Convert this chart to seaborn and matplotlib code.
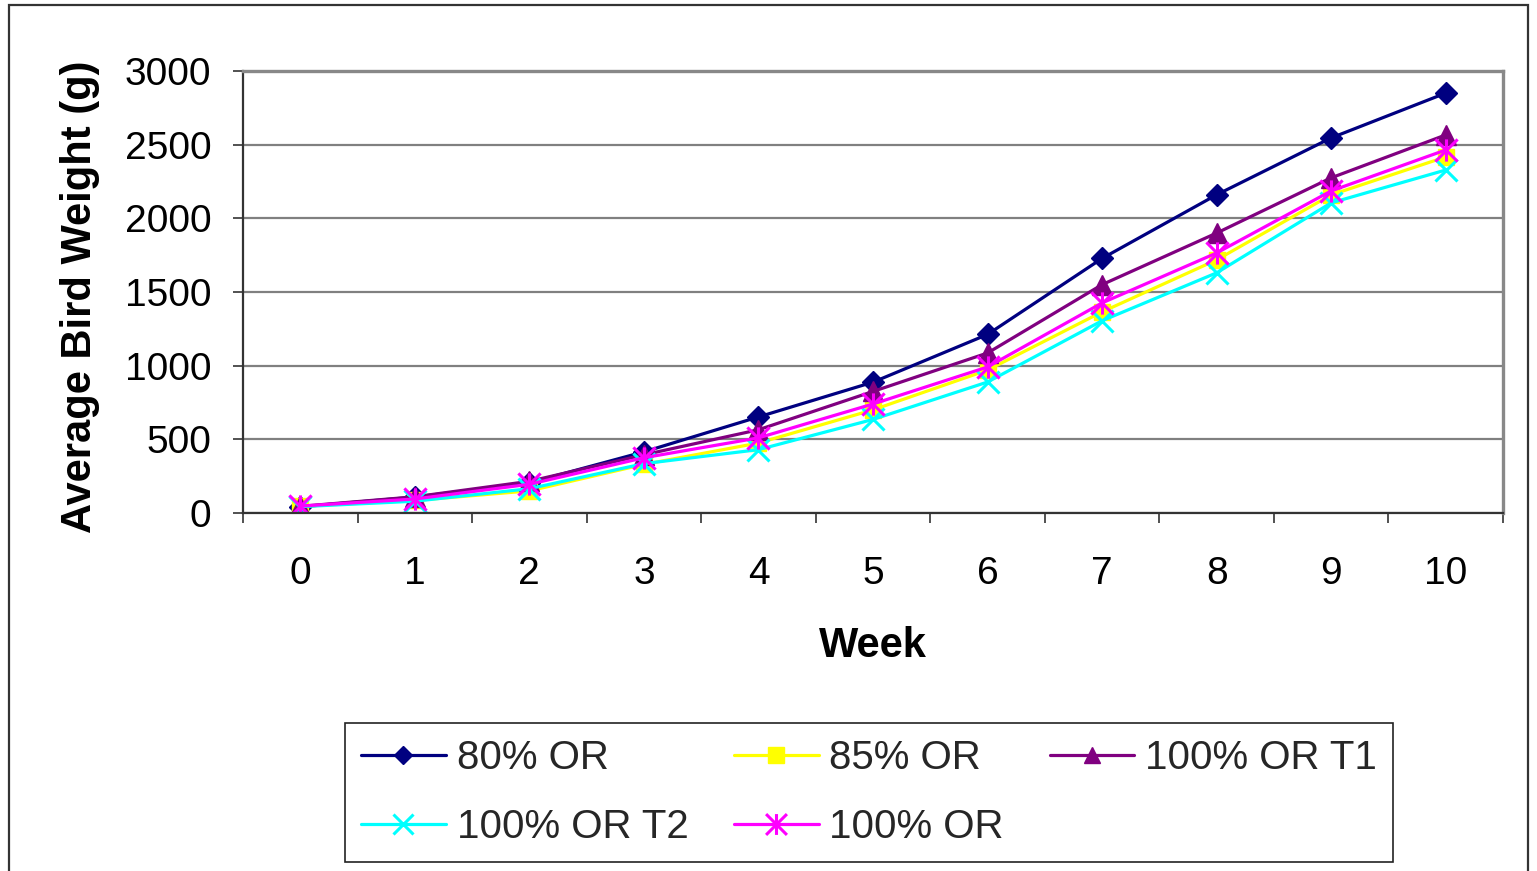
import numpy as np
import pandas as pd
import matplotlib
matplotlib.use("Agg")
import matplotlib.pyplot as plt
from matplotlib.path import Path
from matplotlib.patches import Rectangle
import seaborn as sns

# ---- data ----
weeks = list(range(0, 11))
series_names = ["80% OR", "85% OR", "100% OR T1", "100% OR T2", "100% OR"]
w_80 = [42, 108, 205, 415, 652, 888, 1212, 1728, 2160, 2546, 2850]
w_85 = [45, 85, 150, 330, 475, 700, 970, 1365, 1718, 2159, 2417]
w_100_t1 = [45, 110, 215, 395, 565, 825, 1086, 1550, 1900, 2275, 2566]
w_100_t2 = [43, 80, 165, 335, 430, 635, 889, 1305, 1630, 2105, 2328]
w_100 = [47, 95, 195, 375, 510, 740, 991, 1426, 1765, 2186, 2464]
y_ticks = [0, 500, 1000, 1500, 2000, 2500, 3000]

sns.set_theme(style="white")
plt.rcParams["font.family"] = ["Liberation Sans", "DejaVu Sans"]

# asterisk marker: vertical bar plus an x
ast = Path([(0, -1), (0, 1), (-1, -1), (1, 1), (-1, 1), (1, -1)],
           [Path.MOVETO, Path.LINETO] * 3)

styles = {
    "80% OR": dict(color="#000080", marker="D", ms=11, mew=1, lms=9),
    "85% OR": dict(color="#FFFF00", marker="s", ms=12, mew=1, lms=11),
    "100% OR T1": dict(color="#800080", marker="^", ms=14, mew=1, lms=12),
    "100% OR T2": dict(color="#00FFFF", marker="x", ms=16, mew=2.2, lms=15),
    "100% OR": dict(color="#FF00FF", marker=ast, ms=16, mew=2.2, lms=15),
}
values = {
    "80% OR": w_80,
    "85% OR": w_85,
    "100% OR T1": w_100_t1,
    "100% OR T2": w_100_t2,
    "100% OR": w_100,
}

W, H = 1537, 871
fig = plt.figure(figsize=(W / 100, H / 100), dpi=100)
ax = fig.add_axes([243 / W, (H - 513) / H, (1503 - 243) / W, (513 - 71) / H])

for name in series_names:
    st = styles[name]
    sns.lineplot(x=weeks, y=values[name], ax=ax, color=st["color"],
                 marker=st["marker"], markersize=st["ms"],
                 markeredgecolor=st["color"], markerfacecolor=st["color"],
                 markeredgewidth=st["mew"], linewidth=2.3, label=name)

ax.set_xlim(-0.5, 10.5)
ax.set_ylim(0, 3000)
ax.set_xticks(weeks)
ax.set_xticklabels([str(w) for w in weeks])
ax.set_xticks(np.arange(-0.5, 11, 1.0), minor=True)
ax.set_yticks(y_ticks)
ax.set_yticklabels([str(v) for v in y_ticks])

ax.tick_params(axis="x", which="major", length=0, pad=31, labelsize=28, labelcolor="black")
ax.tick_params(axis="x", which="minor", length=7.2, width=1.2, direction="out",
               color="#333333", bottom=True)
ax.tick_params(axis="y", which="major", length=7.2, width=1.2, direction="out",
               color="#333333", pad=15.5, labelsize=28, labelcolor="black", left=True)

ax.yaxis.grid(True, color="#808080", linewidth=1.6)
ax.xaxis.grid(False)
ax.set_axisbelow(True)

for side in ["left", "bottom"]:
    ax.spines[side].set_color("#333333")
    ax.spines[side].set_linewidth(1.6)
for side in ["top", "right"]:
    ax.spines[side].set_color("#888888")
    ax.spines[side].set_linewidth(2.4)

ax.set_xlabel("Week", fontsize=30, fontweight="bold", color="black")
ax.set_ylabel("Average Bird Weight (g)", fontsize=30, fontweight="bold", color="black")
ax.xaxis.set_label_coords(0.5, (513 - 626) / 442)
ax.yaxis.set_label_coords((100 - 243) / 1260, 0.49)

# legend (row-wise order like the original: matplotlib fills column by column)
handles, labels = ax.get_legend_handles_labels()
if ax.get_legend() is not None:
    ax.get_legend().remove()
hmap = dict(zip(labels, handles))
leg_order = ["80% OR", "100% OR T2", "85% OR", "100% OR", "100% OR T1"]
leg = fig.legend([hmap[n] for n in leg_order], leg_order, ncol=3, mode="expand",
                 loc="upper left",
                 bbox_to_anchor=(345 / W, (H - 862) / H, (1393 - 345) / W, (862 - 723) / H),
                 bbox_transform=fig.transFigure,
                 fontsize=29, frameon=True, fancybox=False, shadow=False,
                 framealpha=1, edgecolor="#222222", borderpad=0.4,
                 handlelength=2.1, handletextpad=0.27, labelspacing=0.76,
                 borderaxespad=0, columnspacing=1.0)
leg.get_frame().set_linewidth(1.2)
for h, name in zip(leg.legend_handles, leg_order):
    h.set_markersize(styles[name]["lms"])

fig.add_artist(Rectangle((8.5 / W, -0.02), (1528 - 8.5) / W, 1.02 + (H - 5) / H - 1.0,
                         transform=fig.transFigure, fill=False,
                         edgecolor="#333333", linewidth=1.6))

fig.savefig("out.png", dpi=100)
